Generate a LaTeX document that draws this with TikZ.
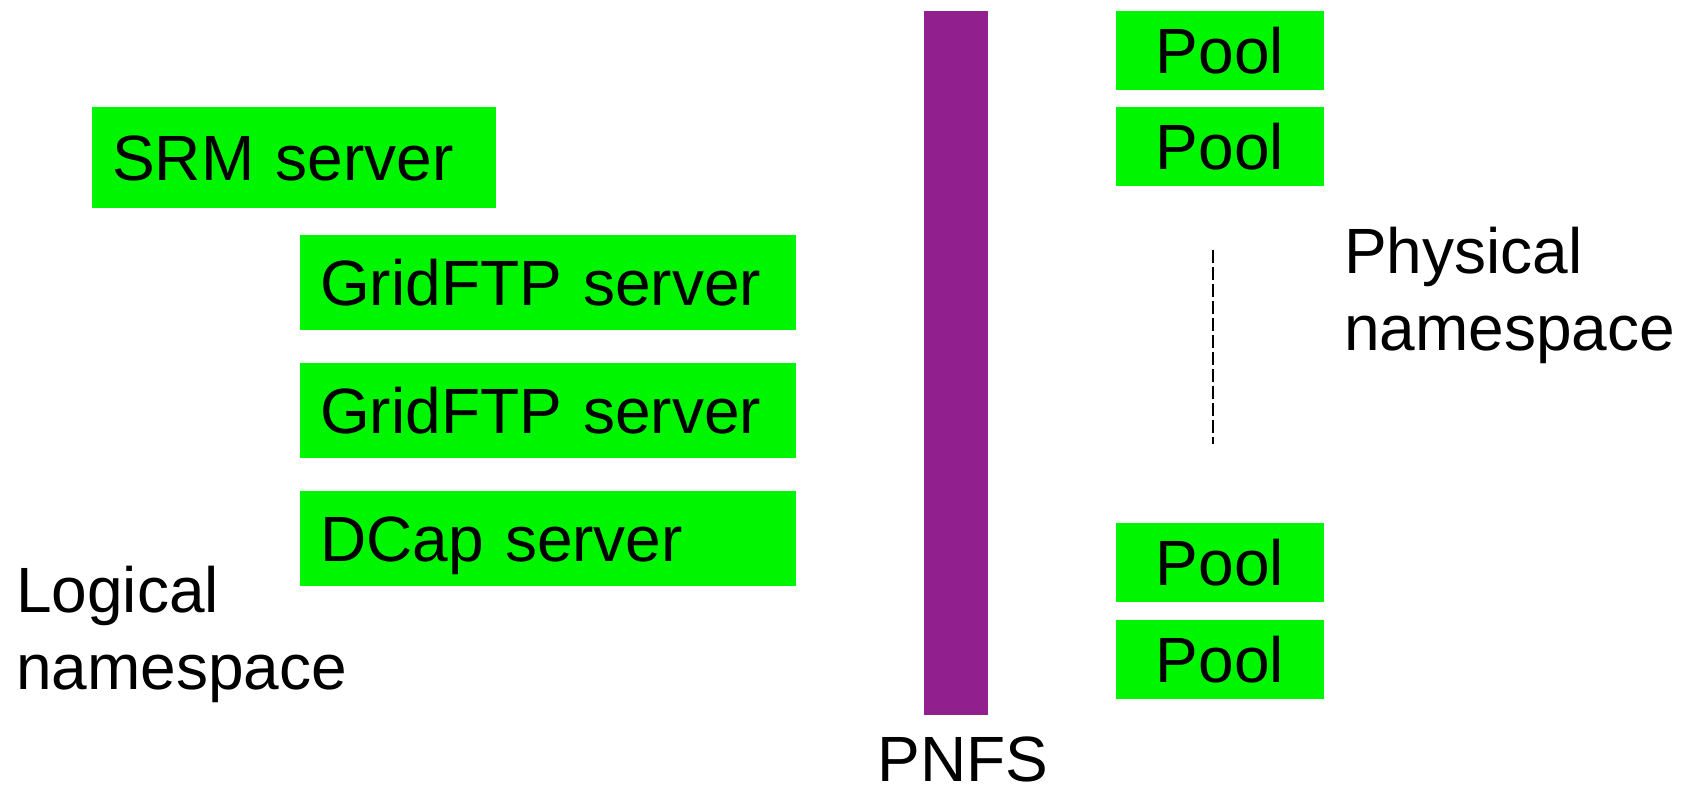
\documentclass[tikz,border=0pt]{standalone}
\usepackage{fontspec}
\setmainfont{Liberation Sans}
\usetikzlibrary{positioning}
\definecolor{boxgreen}{RGB}{0,246,0}
\definecolor{pnfspurple}{RGB}{145,32,142}
\newcommand{\bigfont}{\fontsize{64}{77}\selectfont}

\tikzset{
  srvbox/.style={fill=boxgreen, anchor=north west, inner xsep=20pt, inner ysep=0pt,
    minimum height=95pt, text height=46pt, text depth=0pt, align=left, font=\bigfont},
  poolbox/.style={fill=boxgreen, minimum width=208pt, minimum height=79pt,
    text height=46pt, text depth=0pt, inner sep=0pt, font=\bigfont},
  nslabel/.style={anchor=base west, inner sep=0pt, align=left, font=\bigfont}
}

\begin{document}
\begin{tikzpicture}[x=1pt, y=-1pt]
  \useasboundingbox (0,0) rectangle (1693,786);

  % door servers (logical side)
  \node[srvbox, text width=364pt, minimum height=101pt] (srm) at (92,107) {SRM server};
  \node[srvbox, text width=456pt] (grid1) at (300,235) {GridFTP server};
  \node[srvbox, text width=456pt] (grid2) at (300,363) {GridFTP server};
  \node[srvbox, text width=456pt] (dcap) at (300,491) {DCap server};
  \node[nslabel] (logical) at (16,689) {Logical\\namespace};

  % PNFS bar
  \node[fill=pnfspurple, minimum width=64pt, minimum height=704pt, inner sep=0pt] (pnfs) at (956,363) {};
  \node[below=21pt of pnfs, xshift=7pt, inner sep=0pt, font=\bigfont] (pnfslbl) {PNFS};

  % pools (physical side)
  \node[poolbox] (pool1) at (1220,50.5) {Pool};
  \node[poolbox] (pool2) at (1220,146.5) {Pool};
  \node[poolbox] (pool3) at (1220,562.5) {Pool};
  \node[poolbox] (pool4) at (1220,659) {Pool};
  \coordinate (dtop) at (1213,250);
  \coordinate (dbot) at (1213,444);
  \draw[line width=1.2pt, dash pattern=on 13pt off 4pt] (dtop) -- (dbot);
  \node[nslabel] (physical) at (1344,350) {Physical\\namespace};
\end{tikzpicture}
\end{document}
